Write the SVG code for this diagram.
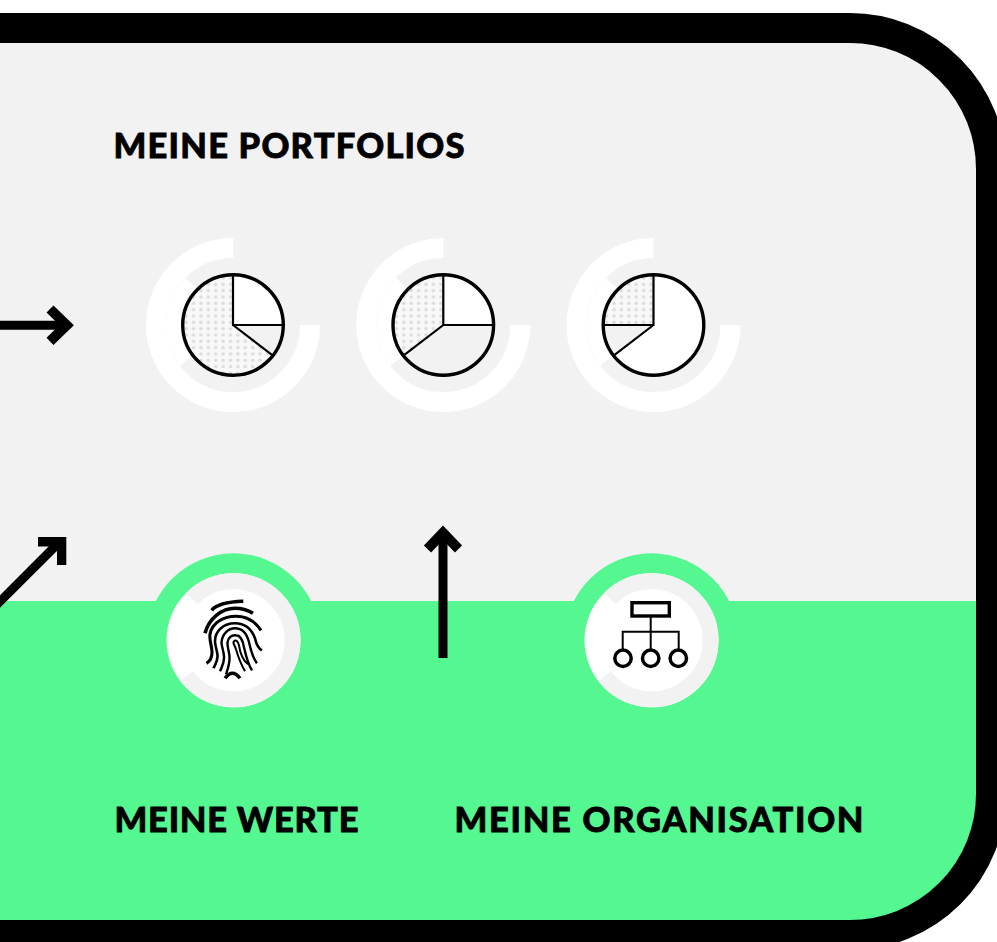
<svg xmlns="http://www.w3.org/2000/svg" width="997" height="942" viewBox="0 0 997 942">
<style>
.lbl{font-family:"Lato","Noto Sans",sans-serif;font-weight:900;font-size:34.500px;fill:#000;stroke:#000;stroke-width:.8px}
.pl{fill:none;stroke:#000;stroke-width:2.2}
.pc{fill:none;stroke:#000;stroke-width:3.4}
.ring{fill:none;stroke:#fff;stroke-width:20}
.inner{fill:none;stroke:#fff;stroke-width:16}
.gr{fill:none;stroke:#f2f2f2;stroke-width:16}
.ar{fill:none;stroke:#000;stroke-width:9}
.hd{fill:none;stroke:#000;stroke-width:10}
.fp{fill:none;stroke:#000;stroke-linecap:butt}
.g{fill:#55f790}
</style>
<defs>
<pattern id="dots" patternUnits="userSpaceOnUse" x="-6.2" y="-5.8" width="7.4" height="6.33"><rect width="7.4" height="6.33" fill="#f8f8f8"/><circle cx="3.7" cy="3.16" r="1.7" fill="#dcdcdc"/></pattern>
<clipPath id="low"><rect x="-10" y="601" width="1100" height="400"/></clipPath>
</defs>
<g id="frame">
<rect x="-200" y="28" width="1191" height="907" rx="141" fill="#f2f2f2"/>
<rect x="-200" y="28" width="1191" height="907" rx="141" class="g" clip-path="url(#low)"/>
</g>
<g id="node-werte-badge" transform="translate(233.5,640.300)">
<circle r="87" class="g"/><circle r="67" fill="#fff"/>
<path d="M-41.7,-41.7A59,59 0 1 1 -46.8,35.9" class="gr"/>
<path d="M-21.8,-30 C-17,-36 -5,-38.500 9.800,-39" class="fp" stroke-width="3.500"/>
<path d="M-28.500,-7 C-24.500,-22 -11.500,-32 1.500,-32 C8.500,-32 14.500,-30 19.500,-27" class="fp" stroke-width="3.600"/>
<path d="M-27,23 C-23.500,21 -21.500,18 -21.500,12 C-21.500,5 -24.500,0 -23.500,-6 C-21.500,-18 -9.500,-24 2.500,-24 C12.500,-24 21.500,-19 27.500,-10" class="fp" stroke-width="3.100"/>
<path d="M-20,28 C-18.500,24 -15.500,21 -16,15 C-16.500,9 -18.500,6 -18.500,1 C-18.500,-10 -9.500,-17 1.500,-17 C12.500,-17 18.500,-10 21.500,-2 C22.500,3 24.500,8 28.500,10" class="fp" stroke-width="2.600"/>
<path d="M-13.500,31 C-11.500,26 -9,23 -9.500,16 C-10,10 -12,6 -12,2 C-11.500,-6 -5.500,-12 1.500,-12 C9.500,-12 13.500,-6 15.500,2 C17.500,11 19.500,18 23.500,23" class="fp" stroke-width="2.400"/>
<path d="M-7.500,34 C-5.500,28 -3.500,23 -4,16 C-4.500,10 -6.500,6 -6,2 C-5.500,-3 -1.500,-5.500 2.500,-5 C7.500,-5 9.500,1 10.500,7 C12.500,16 14.500,24 18.500,30" class="fp" stroke-width="2.400"/>
<path d="M11.500,31 C7.500,24 4.500,16 2.500,9 C1.500,5 -1.500,3 .5,1 C2.500,-1 4.500,1 5.500,5 C6.500,12 9.500,20 14.500,24" class="fp" stroke-width="2"/>
<path d="M-8.500,38 Q-1,28 6.500,38" class="fp" stroke-width="3.500"/>
</g>
<g id="node-org-badge" transform="translate(651.500,640.300)">
<circle r="87" class="g"/><circle r="67" fill="#fff"/>
<path d="M-41.7,-41.7A59,59 0 1 1 -46.8,35.9" class="gr"/>
<rect x="-19.500" y="-37.600" width="37.300" height="13.300" fill="#fff" stroke="#000" stroke-width="3.400"/>
<path d="M-.8,-24V9M-28.800,9V-8.600H27.200V9" fill="none" stroke="#000" stroke-width="2"/>
<g fill="#fff" stroke="#000" stroke-width="3.500"><circle cx="-28.500" cy="18" r="8.200"/><circle cx="-.8" cy="18" r="8.200"/><circle cx="26.800" cy="18" r="8.200"/></g>
</g>
<rect x="-200" y="28" width="1191" height="907" rx="141" fill="none" stroke="#000" stroke-width="30"/>
<g id="node-pie-1" transform="translate(233,325)">
<path d="M0,-77A77,77 0 1 0 77,0" class="ring"/>
<path d="M-41.7,-41.7A59,59 0 0 0 -46.8,35.900" class="inner"/>
<path d="M0,0V-50.300A50.300,50.300 0 0 1 50.300,0Z" fill="#fff"/>
<path d="M0,0L39.900,30.600A50.300,50.300 0 1 1 0,-50.300Z" fill="url(#dots)"/>
<path d="M0,-50.300V0H50.300M0,0L39.900,30.600" class="pl"/>
<circle r="50.300" class="pc"/>
</g>
<g id="node-pie-2" transform="translate(443.300,325)">
<path d="M0,-77A77,77 0 1 0 77,0" class="ring"/>
<path d="M-41.7,-41.7A59,59 0 0 0 -46.8,35.900" class="inner"/>
<path d="M0,0V-50.300A50.300,50.300 0 0 1 50.300,0Z" fill="#fff"/>
<path d="M0,0L-39.900,30.600A50.300,50.300 0 0 1 0,-50.300Z" fill="url(#dots)"/>
<path d="M0,-50.300V0H50.300M0,0L-39.900,30.600" class="pl"/>
<circle r="50.300" class="pc"/>
</g>
<g id="node-pie-3" transform="translate(653.500,325)">
<path d="M0,-77A77,77 0 1 0 77,0" class="ring"/>
<path d="M-41.7,-41.7A59,59 0 0 0 -46.8,35.900" class="inner"/>
<path d="M0,-50.300A50.300,50.300 0 1 1 -39.900,30.600L0,0Z" fill="#fff"/>
<path d="M0,0H-50.300A50.300,50.300 0 0 1 0,-50.300Z" fill="url(#dots)"/>
<path d="M0,-50.300V0H-50.300M0,0L-39.900,30.600" class="pl"/>
<circle r="50.300" class="pc"/>
</g>
<g id="connectors">
<path d="M-5,325.200H68" class="ar"/><path d="M50,309L66.700,325.200L50,341.400" class="hd"/>
<path d="M443,658V533" class="ar"/><path d="M427.500,549L443,532.800L458.500,549" class="hd"/>
<path d="M-6,607.500L60,541.500" class="ar" stroke-width="9.500"/>
<path d="M38,537H66.300V565H57V546.500H38Z" fill="#000"/>
</g>
<g id="labels">
<text class="lbl" x="113.500" y="157.800" textLength="351" lengthAdjust="spacing">MEINE PORTFOLIOS</text>
<text class="lbl" x="114.500" y="832.300" textLength="244" lengthAdjust="spacing">MEINE WERTE</text>
<text class="lbl" x="454.500" y="832.300" textLength="409" lengthAdjust="spacing">MEINE ORGANISATION</text>
</g>
</svg>
